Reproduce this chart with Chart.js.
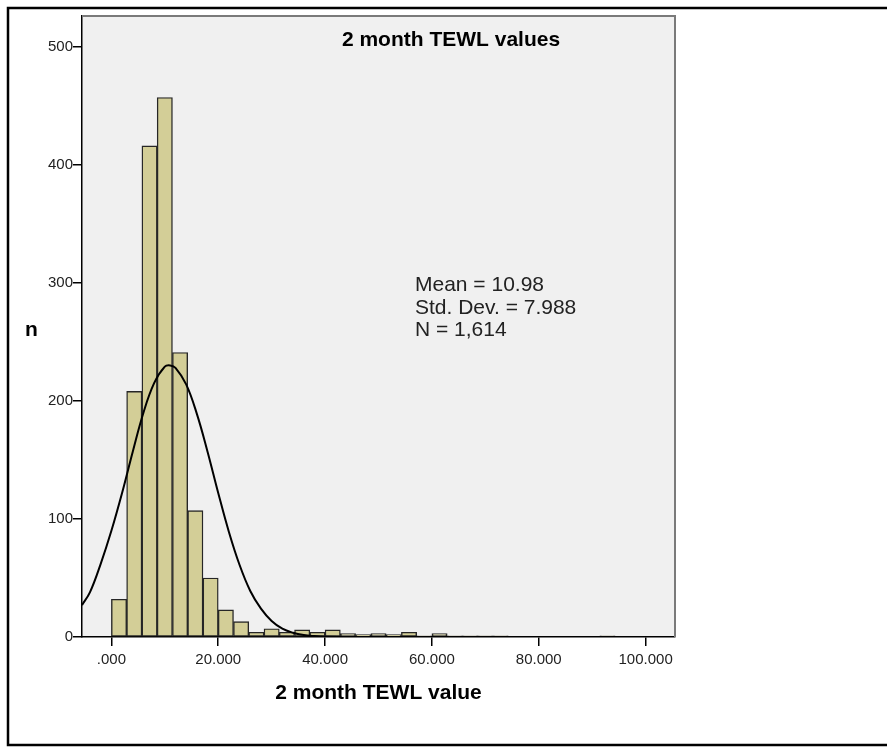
<!DOCTYPE html>
<html>
<head>
<meta charset="utf-8">
<title>2 month TEWL values</title>
<script src="https://cdn.jsdelivr.net/npm/chart.js@4.4.1/dist/chart.umd.min.js"></script>
<style>
  html, body { margin: 0; padding: 0; background: #fff; }
  canvas { display: block; }
</style>
</head>
<body>
<canvas id="tewl" width="887" height="753"></canvas>
<script>
// histogram bins: 35 bins from 0 to 100 (bin centres)
const binCenters = [
  1.429, 4.286, 7.143, 10.000, 12.857, 15.714, 18.571, 21.429, 24.286, 27.143,
  30.000, 32.857, 35.714, 38.571, 41.429, 44.286, 47.143, 50.000, 52.857, 55.714,
  58.571, 61.429, 64.286, 67.143, 70.000, 72.857, 75.714, 78.571, 81.429, 84.286,
  87.143, 90.000, 92.857, 95.714, 98.571
];
const binCounts = [
  32, 208, 416, 457, 241, 107, 50, 23, 13, 4,
  7, 4, 6, 4, 6, 3, 2, 3, 2, 4,
  1, 3, 1, 1, 1, 1, 0, 0, 0, 0,
  0, 0, 1, 0, 0
];

// normal curve overlay
const curveX = [-5.5, -4, -2, 0, 2, 4, 6, 8, 10, 11, 12, 14, 16, 18, 20, 22, 24, 26, 28, 30, 32, 34, 36, 38, 40, 45, 60, 105.5];
const curveY = [27, 38, 62, 90, 122, 157, 190, 215, 229, 230, 228, 214, 189, 157, 122, 89, 61, 39, 24, 13.5, 7, 3.6, 1.7, 0.8, 0.3, 0, 0, 0];

const xTickValues = [0, 20, 40, 60, 80, 100];
const xTickLabels = ['.000', '20.000', '40.000', '60.000', '80.000', '100.000'];
const yTickValues = [0, 100, 200, 300, 400, 500];
const yTickLabels = ['0', '100', '200', '300', '400', '500'];

const titleText = '2 month TEWL values';
const xTitle = '2 month TEWL value';
const yTitle = 'n';
const statsLines = ['Mean = 10.98', 'Std. Dev. = 7.988', 'N = 1,614'];

const FONT = '"Liberation Sans", Arial, sans-serif';

const decorations = {
  id: 'decorations',
  beforeDraw(chart) {
    const { ctx, chartArea: a } = chart;
    ctx.save();
    ctx.fillStyle = '#f0f0f0';
    ctx.fillRect(a.left, a.top, a.right - a.left, a.bottom - a.top);
    // outer frame
    ctx.strokeStyle = '#000';
    ctx.lineWidth = 2.5;
    ctx.strokeRect(8, 8, 900, 737);
    ctx.restore();
  },
  afterDraw(chart) {
    const { ctx, chartArea: a } = chart;
    ctx.save();
    // top and right edge of the plot box
    ctx.strokeStyle = '#7a7a7a';
    ctx.lineWidth = 2;
    ctx.beginPath();
    ctx.moveTo(a.left, a.top);
    ctx.lineTo(a.right, a.top);
    ctx.lineTo(a.right, a.bottom);
    ctx.stroke();

    ctx.fillStyle = '#000';
    ctx.textBaseline = 'alphabetic';
    ctx.font = 'bold 21px ' + FONT;
    ctx.textAlign = 'center';
    ctx.fillText(titleText, 451, 46);
    ctx.fillText(xTitle, (a.left + a.right) / 2, 699);
    ctx.textAlign = 'left';
    ctx.fillText(yTitle, 25, 336);

    ctx.font = '21px ' + FONT;
    ctx.fillStyle = '#222';
    statsLines.forEach((line, i) => ctx.fillText(line, 415, 291 + i * 22.7));
    ctx.restore();
  }
};

new Chart(document.getElementById('tewl'), {
  type: 'bar',
  data: {
    datasets: [
      {
        type: 'line',
        data: curveX.map((x, i) => ({ x, y: curveY[i] })),
        borderColor: '#000',
        borderWidth: 2,
        pointRadius: 0,
        tension: 0.4,
        fill: false,
        order: 0
      },
      {
        type: 'bar',
        data: binCenters.map((x, i) => ({ x, y: binCounts[i] })),
        backgroundColor: '#d3ce97',
        borderColor: '#262626',
        borderWidth: 1.4,
        borderSkipped: false,
        barPercentage: 1,
        categoryPercentage: 1,
        order: 1
      }
    ]
  },
  options: {
    responsive: false,
    animation: false,
    layout: { padding: { left: 0, top: 16, right: 212, bottom: 0 } },
    plugins: {
      legend: { display: false },
      tooltip: { enabled: false }
    },
    scales: {
      x: {
        type: 'linear',
        min: -5.5,
        max: 105.5,
        offset: false,
        afterBuildTicks: (scale) => { scale.ticks = xTickValues.map(v => ({ value: v })); },
        afterFit: (scale) => { scale.height = 116; },
        grid: { display: true, drawOnChartArea: false, drawTicks: true, tickLength: 9, color: '#000', lineWidth: 1.5, offset: false },
        border: { display: true, color: '#000', width: 1.5 },
        ticks: {
          autoSkip: false,
          maxRotation: 0,
          padding: 5,
          color: '#222',
          font: { family: FONT, size: 15 },
          callback: (v, i) => xTickLabels[i]
        }
      },
      y: {
        type: 'linear',
        min: 0,
        max: 526,
        afterBuildTicks: (scale) => { scale.ticks = yTickValues.map(v => ({ value: v })); },
        afterFit: (scale) => { scale.width = 82; },
        grid: { display: true, drawOnChartArea: false, drawTicks: true, tickLength: 9, color: '#000', lineWidth: 1.5 },
        border: { display: true, color: '#000', width: 1.5 },
        ticks: {
          padding: 0,
          color: '#222',
          font: { family: FONT, size: 15 },
          callback: (v, i) => yTickLabels[i]
        }
      }
    }
  },
  plugins: [decorations]
});
</script>
</body>
</html>
